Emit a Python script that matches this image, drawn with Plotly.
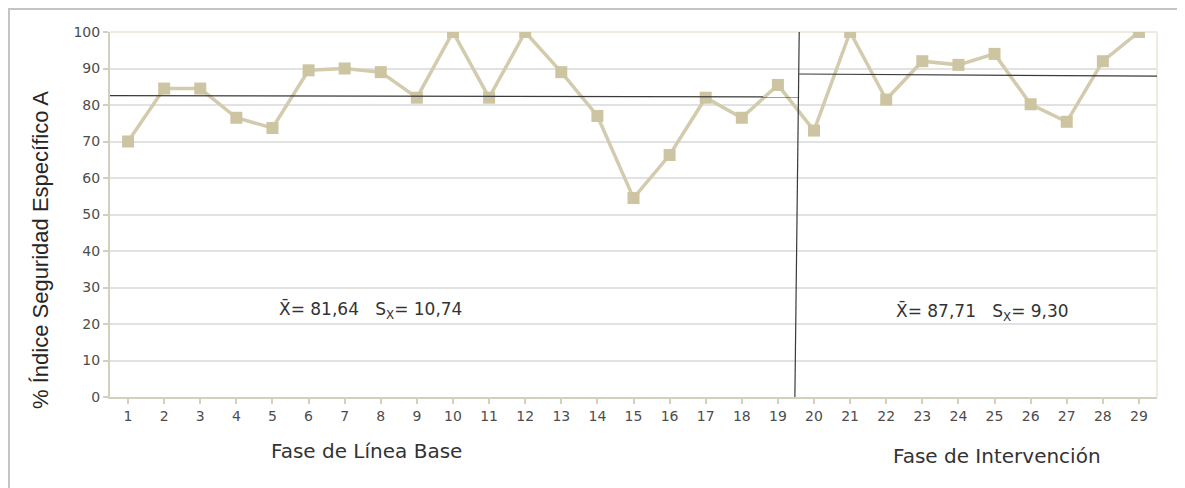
import plotly.graph_objects as go

sessions = list(range(1, 30))
values = [70, 84.5, 84.5, 76.5, 73.7, 89.5, 90, 89, 82, 100,
          82, 100, 89, 77, 54.5, 66.3, 82, 76.5, 85.5,
          73, 100, 81.5, 92, 91, 94, 80.2, 75.4, 92, 100]
y_ticks = [0, 10, 20, 30, 40, 50, 60, 70, 80, 90, 100]

phase_change = 19.53
base_mean_line = [82.55, 82.2]
int_mean_line = [88.5, 87.9]
NB = "\u00a0"
base_stats = "X\u0304= 81,64" + NB * 3 + "S<sub>X</sub>= 10,74"
int_stats = "X\u0304= 87,71" + NB * 3 + "S<sub>X</sub>= 9,30"
phase_labels = ["Fase de Línea Base", "Fase de Intervención"]
y_title = "% Índice Seguridad Específico A"

OFF = 8  # page body margin
W, H = 1185 - OFF, 488 - OFF
L, R, T, B = 110 - OFF, 1185 - 1157, 32 - OFF, 488 - 397
pw, ph = W - L - R, H - T - B

def px(x):
    return (x - OFF - L) / pw

def py(y):
    return (H - B - (y - OFF)) / ph

fig = go.Figure()
fig.add_trace(go.Scatter(
    x=sessions, y=values, mode="lines+markers",
    line=dict(color="#d3cbad", width=3.5),
    marker=dict(symbol="square", size=12, color="#cdc4a2"),
    showlegend=False, hoverinfo="x+y"))

dark = dict(color="#3a3a3a", width=1.2)
shapes = [
    dict(type="rect", xref="paper", yref="paper", x0=px(9), x1=px(1195), y0=py(9), y1=py(500),
         line=dict(color="#c4c4c4", width=2), layer="below"),
    dict(type="line", xref="paper", yref="paper", x0=0, x1=1, y0=1, y1=1,
         line=dict(color="#efebdd", width=2), layer="below"),
    dict(type="line", xref="paper", yref="paper", x0=1, x1=1, y0=0, y1=1,
         line=dict(color="#efebdd", width=2), layer="below"),
    dict(type="line", xref="x", yref="y", x0=phase_change + 0.06, x1=phase_change - 0.06,
         y0=100, y1=0, line=dark),
    dict(type="line", xref="x", yref="y", x0=0.5, x1=phase_change + 0.06,
         y0=base_mean_line[0], y1=base_mean_line[1], line=dark),
    dict(type="line", xref="x", yref="y", x0=phase_change + 0.06, x1=29.5,
         y0=int_mean_line[0], y1=int_mean_line[1], line=dark),
]

def ann(text, x, y, size, family="DejaVu Sans", angle=0, color="#333333"):
    return dict(text=text, x=px(x), y=py(y), xref="paper", yref="paper",
                xanchor="center", yanchor="middle", textangle=angle,
                showarrow=False, font=dict(family=family, size=size, color=color))

annotations = [
    ann(base_stats, 370, 310, 17),
    ann(int_stats, 982, 312, 17),
    ann(phase_labels[0], 366, 451, 20),
    ann(phase_labels[1], 997, 456, 20),
    ann(y_title, 40, 250, 22, family="Liberation Sans", angle=-90, color="#262626"),
]

tickfont = dict(family="DejaVu Sans", size=14, color="#4d4d4d")
fig.update_layout(
    width=W, height=H,
    margin=dict(l=L, r=R, t=T, b=B, pad=0),
    paper_bgcolor="white", plot_bgcolor="white",
    shapes=shapes, annotations=annotations,
    xaxis=dict(range=[0.5, 29.5], tickmode="array", tickvals=sessions,
               ticktext=[str(s) for s in sessions],
               showgrid=False, zeroline=False, showline=True, linecolor="#d4d0c0", linewidth=2,
               ticks="outside", ticklen=5, tickcolor="#d4d0c0", tickwidth=1.5,
               tickfont=tickfont, fixedrange=True),
    yaxis=dict(range=[0, 100], tickmode="array", tickvals=y_ticks,
               showgrid=True, gridcolor="#e2e2e2", gridwidth=1.5, zeroline=False,
               showline=True, linecolor="#d4d0c0", linewidth=2,
               ticks="outside", ticklen=5, tickcolor="#d4d0c0", tickwidth=1.5,
               tickfont=tickfont, fixedrange=True),
)

fig.write_html("out.html")
